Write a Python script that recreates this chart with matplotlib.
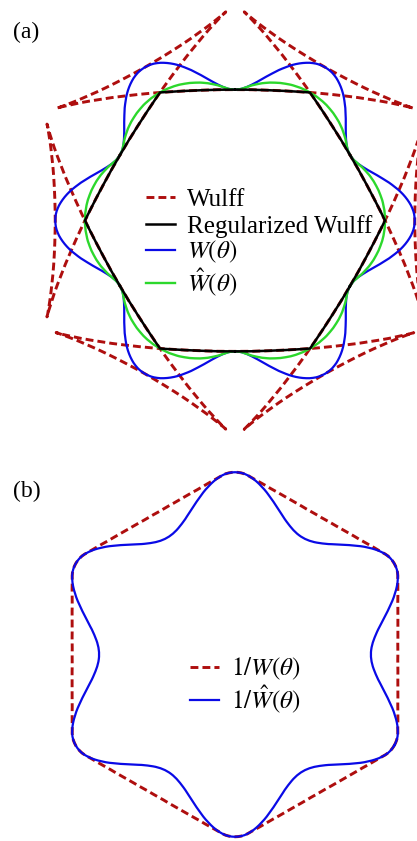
import numpy as np
import matplotlib
matplotlib.use('Agg')
import matplotlib.pyplot as plt

# ---------------- data ----------------
# polar angle (degrees) of one half-sector; the shapes are six-fold symmetric
theta_deg = [0, 1, 2, 3, 4, 5, 6, 7, 8, 9, 10, 11, 12, 13, 14, 15,
             16, 17, 18, 19, 20, 21, 22, 23, 24, 25, 26, 27, 28, 29, 30]

# panel (a): radius of W(theta) (blue) and W_hat(theta) (green)
w_radius = [1.150, 1.149, 1.147, 1.143, 1.137, 1.130, 1.121, 1.111, 1.100, 1.088,
            1.075, 1.061, 1.046, 1.031, 1.016, 1.000, 0.984, 0.969, 0.954, 0.939,
            0.925, 0.912, 0.900, 0.889, 0.879, 0.870, 0.863, 0.857, 0.853, 0.851, 0.850]
w_hat_radius = [0.960, 0.960, 0.959, 0.959, 0.958, 0.956, 0.955, 0.953, 0.951, 0.948,
                0.945, 0.942, 0.939, 0.935, 0.931, 0.927, 0.923, 0.918, 0.913, 0.908,
                0.902, 0.896, 0.890, 0.884, 0.877, 0.870, 0.863, 0.857, 0.853, 0.851, 0.850]

# panel (a): Wulff envelope (red dashed), one half-sector, x / y
wulff_x = [1.150, 1.151, 1.153, 1.156, 1.160, 1.165, 1.171, 1.177, 1.183, 1.189, 1.194,
           1.198, 1.201, 1.203, 1.203, 1.202, 1.199, 1.193, 1.184, 1.171, 1.156, 1.136,
           1.112, 1.085, 1.053, 1.018, 0.979, 0.936, 0.890, 0.841, 0.790, 0.736]
wulff_y = [0.000, -0.074, -0.147, -0.218, -0.286, -0.350, -0.409, -0.462, -0.509, -0.549,
           -0.581, -0.605, -0.620, -0.626, -0.626, -0.623, -0.611, -0.589, -0.559, -0.519,
           -0.472, -0.416, -0.353, -0.283, -0.207, -0.126, -0.040, 0.049, 0.141, 0.235,
           0.330, 0.425]

# panel (a): regularized Wulff shape (black), one half-sector, x / y
reg_wulff_x = [0.960, 0.936, 0.890, 0.841, 0.790, 0.736]
reg_wulff_y = [0.000, 0.049, 0.141, 0.235, 0.330, 0.425]

# panel (b): radius of 1/W(theta) (red dashed) and 1/W_hat(theta) (blue)
inv_w_radius = [1.042, 1.042, 1.042, 1.043, 1.044, 1.046, 1.048, 1.050, 1.052, 1.055,
                1.058, 1.061, 1.065, 1.069, 1.074, 1.079, 1.084, 1.089, 1.095, 1.102,
                1.109, 1.116, 1.124, 1.132, 1.140, 1.149, 1.159, 1.167, 1.172, 1.175, 1.176]
inv_w_hat_radius = [0.870, 0.870, 0.872, 0.875, 0.880, 0.885, 0.892, 0.900, 0.909, 0.919,
                    0.930, 0.943, 0.956, 0.970, 0.984, 1.000, 1.016, 1.032, 1.048, 1.065,
                    1.081, 1.096, 1.111, 1.125, 1.138, 1.149, 1.159, 1.167, 1.172, 1.175, 1.176]

labels_a = ['Wulff', 'Regularized Wulff', r'$W(\theta)$', r'$\hat{W}(\theta)$']
labels_b = [r'$1/W(\theta)$', r'$1/\hat{W}(\theta)$']


# ---------------- helpers: unfold six-fold mirror symmetry ----------------
def full_polar(theta, r):
    th = np.asarray(theta, float)
    r = np.asarray(r, float)
    ang = np.concatenate([-th[::-1], th[1:]])
    rr = np.concatenate([r[::-1], r[1:]])
    X, Y = [], []
    for k in range(6):
        a = np.radians(ang + 60 * k)
        X.append(rr * np.cos(a))
        Y.append(rr * np.sin(a))
    X = np.concatenate(X)
    Y = np.concatenate(Y)
    return np.append(X, X[0]), np.append(Y, Y[0])


def full_xy(x, y):
    x = np.asarray(x, float)
    y = np.asarray(y, float)
    sx = np.concatenate([x[::-1], x[1:]])
    sy = np.concatenate([-y[::-1], y[1:]])
    X, Y = [], []
    for k in range(6):
        a = np.radians(60 * k)
        X.append(sx * np.cos(a) - sy * np.sin(a))
        Y.append(sx * np.sin(a) + sy * np.cos(a))
    X = np.concatenate(X)
    Y = np.concatenate(Y)
    return np.append(X, X[0]), np.append(Y, Y[0])


plt.rcParams['font.family'] = ['Liberation Serif', 'DejaVu Serif']
plt.rcParams['mathtext.fontset'] = 'stix'

RED = '#AE0E0E'
BLUE = '#0A0AE6'
GREEN = '#2CD82C'
BLACK = '#000000'
W, H = 417, 841
fig = plt.figure(figsize=(W / 100, H / 100), dpi=100)


def row_legend(handle, label, x_px, y_px):
    leg = fig.legend(handles=[handle], labels=[label], loc='center left',
                     bbox_to_anchor=(x_px / W, 1 - y_px / H), frameon=False,
                     borderpad=0, borderaxespad=0, fontsize=18, handlelength=1.16,
                     handletextpad=0.48)
    return [leg, x_px, y_px, y_px]   # legend, x, target line y, current anchor y


# ---------------- panel (a) ----------------
sx_a, sy_a, cx_a, cy_a = 156.3, 154.0, 235.0, 220.5
axa = fig.add_axes([0, 1 - 440 / H, 1, 440 / H])
axa.set_xlim(-cx_a / sx_a, (W - cx_a) / sx_a)
axa.set_ylim((cy_a - 440) / sy_a, cy_a / sy_a)
axa.axis('off')

X, Y = full_xy(wulff_x, wulff_y)
l1, = axa.plot(X, Y, color=RED, lw=2.1, dashes=[2.7, 1.4], zorder=1)
X, Y = full_xy(reg_wulff_x, reg_wulff_y)
l2, = axa.plot(X, Y, color=BLACK, lw=1.8, zorder=4)
X, Y = full_polar(theta_deg, w_radius)
l3, = axa.plot(X, Y, color=BLUE, lw=1.6, zorder=2)
X, Y = full_polar(theta_deg, w_hat_radius)
l4, = axa.plot(X, Y, color=GREEN, lw=1.7, zorder=3)

rows_a = [row_legend(h, lab, 146, yy) for h, lab, yy in
          zip([l1, l2, l3, l4], labels_a, [197.3, 224.3, 251.7, 277.7])]

# ---------------- panel (b) ----------------
sx_b, sy_b, cx_b, cy_b = 156.3, 155.0, 235.0, 654.5
axb = fig.add_axes([0, 0, 1, 401 / H])
axb.set_xlim(-cx_b / sx_b, (W - cx_b) / sx_b)
axb.set_ylim((cy_b - 841) / sy_b, (cy_b - 440) / sy_b)
axb.axis('off')

X, Y = full_polar(theta_deg, inv_w_radius)
m1, = axb.plot(X, Y, color=RED, lw=2.1, dashes=[2.7, 1.4], zorder=1)
X, Y = full_polar(theta_deg, inv_w_hat_radius)
m2, = axb.plot(X, Y, color=BLUE, lw=1.6, zorder=2)

rows_b = [row_legend(h, lab, 190, yy) for h, lab, yy in
          zip([m1, m2], labels_b, [669.5, 697.0])]

fig.text(13 / W, 1 - 37.7 / H, '(a)', fontsize=17, va='baseline', ha='left')
fig.text(13 / W, 1 - 497.3 / H, '(b)', fontsize=17, va='baseline', ha='left')


def move(row, d):
    row[2] += d
    row[3] += d
    row[0].set_bbox_to_anchor((row[1] / W, 1 - row[3] / H))


# place each legend row so that its sample line sits on the wanted pixel row
def snap(row):
    leg, x_px, target, anchor = row
    ln = leg.legend_handles[0]
    y_disp = ln.get_transform().transform((ln.get_xdata()[0], ln.get_ydata()[0]))[1]
    actual = H - y_disp
    row[3] = anchor + (target - actual)
    leg.set_bbox_to_anchor((x_px / W, 1 - row[3] / H))


fig.canvas.draw()
for row in rows_a + rows_b:
    snap(row)
fig.canvas.draw()
renderer = fig.canvas.get_renderer()


def text_box(row):
    return row[0].get_texts()[0].get_window_extent(renderer)


# keep consecutive legend rows from touching: share the nudge between the
# upper row (as far as its own free space allows) and the lower row
for rows in (rows_a, rows_b):
    for i in range(1, len(rows)):
        upper, lower = rows[i - 1], rows[i]
        need = text_box(lower).y1 - text_box(upper).y0 + 1.0
        if need <= 0:
            continue
        up_room = 0.0
        if i >= 2:
            up_room = max(0.0, text_box(rows[i - 2]).y0 - text_box(upper).y1 - 1.0)
        else:
            up_room = need / 2
        up = min(up_room, need / 2)
        move(upper, -up)
        move(lower, need - up)
        fig.canvas.draw()

fig.savefig('out.png', dpi=100)
